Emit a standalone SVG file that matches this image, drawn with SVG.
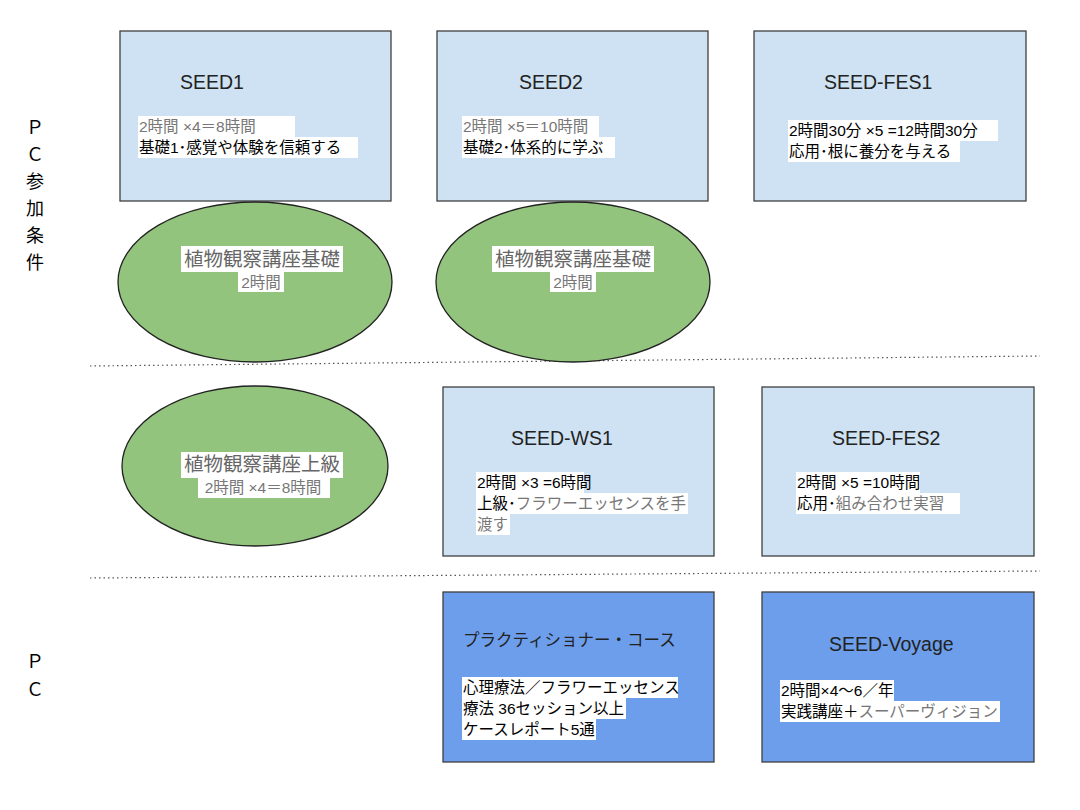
<svg xmlns="http://www.w3.org/2000/svg" width="1080" height="810" viewBox="0 0 1080 810">
<style>
text{font-family:"Liberation Sans","Noto Sans CJK JP",sans-serif;}
.box{fill:#cfe2f3;stroke:#3f3f3f;stroke-width:1.3}
.dbox{fill:#6d9eeb;stroke:#3f3f3f;stroke-width:1.3}
.ell{fill:#93c47d;stroke:#222;stroke-width:1.3}
.t{font-size:19.5px;fill:#222}
.s{font-size:15.5px;fill:#000}
.g{fill:#777}
.hl{fill:#fff}
.sep{stroke:#555;stroke-width:1.2;stroke-dasharray:1.5 3}
.side{font-size:18px;fill:#000}
.e{font-size:19.5px;fill:#666}
</style>
<rect width="1080" height="810" fill="#fff"/>
<g id="labels">
<text class="side" x="35" y="134" text-anchor="middle">Ｐ</text>
<text class="side" x="35" y="161" text-anchor="middle">Ｃ</text>
<text class="side" x="35" y="188" text-anchor="middle">参</text>
<text class="side" x="35" y="215" text-anchor="middle">加</text>
<text class="side" x="35" y="242" text-anchor="middle">条</text>
<text class="side" x="35" y="269" text-anchor="middle">件</text>
<text class="side" x="35" y="668" text-anchor="middle">Ｐ</text>
<text class="side" x="35" y="696" text-anchor="middle">Ｃ</text>
</g>
<g id="connectors">
<line class="sep" x1="90" y1="366" x2="1040" y2="356"/>
<line class="sep" x1="90" y1="578" x2="1040" y2="571"/>
</g>
<g id="seed1">
<rect class="box" x="120" y="31" width="271" height="170"/>
<text class="t" x="180" y="89">SEED1</text>
<rect class="hl" x="138" y="116" width="157" height="21"/>
<rect class="hl" x="138" y="137" width="220" height="21"/>
<text class="s g" x="139" y="132">2時間 ×4＝8時間</text>
<text class="s" x="139" y="153">基礎1･感覚や体験を信頼する</text>
</g>
<g id="seed2">
<rect class="box" x="437" y="31" width="271" height="170"/>
<text class="t" x="519" y="89">SEED2</text>
<rect class="hl" x="462" y="116" width="137" height="21"/>
<rect class="hl" x="462" y="137" width="153" height="21"/>
<text class="s g" x="463" y="132">2時間 ×5＝10時間</text>
<text class="s" x="463" y="153">基礎2･体系的に学ぶ</text>
</g>
<g id="seedfes1">
<rect class="box" x="754" y="31" width="272" height="170"/>
<text class="t" x="824" y="89">SEED-FES1</text>
<rect class="hl" x="788" y="120" width="210" height="21"/>
<rect class="hl" x="788" y="141" width="172" height="21"/>
<text class="s" x="789" y="136">2時間30分 ×5 =12時間30分</text>
<text class="s" x="789" y="157">応用･根に養分を与える</text>
</g>
<g id="kiso1">
<ellipse class="ell" cx="255" cy="282" rx="137" ry="80"/>
<rect class="hl" x="181" y="246" width="162" height="26"/>
<rect class="hl" x="238" y="272" width="46" height="20"/>
<text class="e" x="262" y="266" text-anchor="middle">植物観察講座基礎</text>
<text class="s g" x="261" y="288" text-anchor="middle">2時間</text>
</g>
<g id="kiso2">
<ellipse class="ell" cx="573" cy="282" rx="137" ry="80"/>
<rect class="hl" x="492" y="246" width="162" height="26"/>
<rect class="hl" x="550" y="272" width="46" height="20"/>
<text class="e" x="573" y="266" text-anchor="middle">植物観察講座基礎</text>
<text class="s g" x="573" y="288" text-anchor="middle">2時間</text>
</g>
<g id="jokyu">
<ellipse class="ell" cx="255" cy="466" rx="133" ry="80"/>
<rect class="hl" x="181" y="452" width="162" height="26"/>
<rect class="hl" x="198" y="478" width="132" height="20"/>
<text class="e" x="262" y="471" text-anchor="middle">植物観察講座上級</text>
<text class="s g" x="263" y="493" text-anchor="middle">2時間 ×4＝8時間</text>
</g>
<g id="ws1">
<rect class="box" x="443" y="387" width="271" height="169"/>
<text class="t" x="511" y="445">SEED-WS1</text>
<rect class="hl" x="476" y="472" width="108" height="21"/>
<rect class="hl" x="476" y="493" width="212" height="21"/>
<rect class="hl" x="476" y="514" width="34" height="21"/>
<text class="s" x="477" y="488">2時間 ×3 =6時間</text>
<text class="s" x="477" y="509">上級･<tspan class="g">フラワーエッセンスを手</tspan></text>
<text class="s g" x="477" y="530">渡す</text>
</g>
<g id="fes2">
<rect class="box" x="762" y="387" width="272" height="169"/>
<text class="t" x="832" y="445">SEED-FES2</text>
<rect class="hl" x="796" y="472" width="124" height="21"/>
<rect class="hl" x="796" y="493" width="164" height="21"/>
<text class="s" x="797" y="488">2時間 ×5 =10時間</text>
<text class="s" x="797" y="509">応用･<tspan class="g">組み合わせ実習</tspan></text>
</g>
<g id="practitioner">
<rect class="dbox" x="443" y="592" width="271" height="170"/>
<text x="463" y="646" font-size="16.5" fill="#222">プラクティショナー・コース</text>
<rect class="hl" x="462" y="677" width="216" height="21"/>
<rect class="hl" x="462" y="698" width="164" height="21"/>
<rect class="hl" x="462" y="719" width="134" height="21"/>
<text class="s" x="463" y="693">心理療法／フラワーエッセンス</text>
<text class="s" x="463" y="714">療法 36セッション以上</text>
<text class="s" x="463" y="735">ケースレポート5通</text>
</g>
<g id="voyage">
<rect class="dbox" x="762" y="592" width="272" height="170"/>
<text class="t" x="829" y="651">SEED-Voyage</text>
<rect class="hl" x="780" y="680" width="114" height="21"/>
<rect class="hl" x="780" y="701" width="220" height="21"/>
<text class="s" x="781" y="696">2時間×4〜6／年</text>
<text class="s" x="781" y="717">実践講座＋<tspan class="g">スーパーヴィジョン</tspan></text>
</g>
</svg>
